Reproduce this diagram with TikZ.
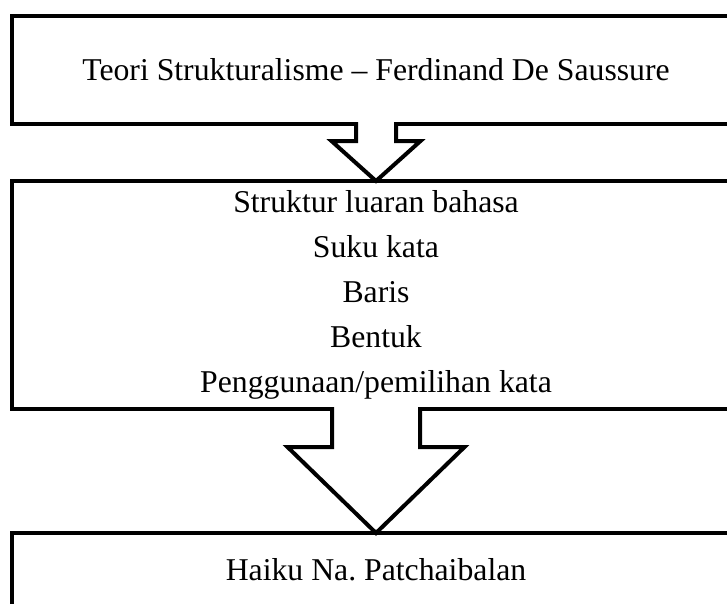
\documentclass[tikz,border=0pt]{standalone}
\usepackage{fontspec}
\setmainfont{Liberation Serif}
\usetikzlibrary{calc}

% hollow down arrow from the bottom of box #1 to the top of box #2
% #3 half stem, #4 stem length, #5 half head
\newcommand{\bigarrow}[5]{%
  \filldraw[hollow] ($(#1.south)+(-#3,-2)$) -- ($(#1.south)+(-#3,#4)$)
    -- ($(#1.south)+(-#5,#4)$) -- (#2.north)
    -- ($(#1.south)+(#5,#4)$) -- ($(#1.south)+(#3,#4)$)
    -- ($(#1.south)+(#3,-2)$);}

\begin{document}
\begin{tikzpicture}[x=0.75pt, y=-0.75pt,
  box/.style={draw, line width=3pt, outer sep=0pt, inner sep=0pt,
    minimum width=546pt, align=center,
    font=\fontsize{23.8pt}{33.6pt}\selectfont},
  hollow/.style={draw=black, fill=white, line width=3pt}]
  \useasboundingbox (0,0) rectangle (727,603);
  \clip (0,0) rectangle (727,603);

  % Theory box
  \node[box, minimum height=81pt] (teori) at (376,70)
    {Teori Strukturalisme -- Ferdinand De Saussure};

  % Surface structure box
  \node[box, minimum height=171pt] (struktur) at (376,295)
    {Struktur luaran bahasa\\ Suku kata\\ Baris\\ Bentuk\\ Penggunaan/pemilihan kata};

  % Haiku box (runs off the bottom)
  \node[box, minimum height=81pt, text depth=26.7pt] (haiku) at (376,587)
    {Haiku Na.\ Patchaibalan};

  % Arrows between the boxes
  \bigarrow{teori}{struktur}{20}{17}{44.5}
  \bigarrow{struktur}{haiku}{44}{38}{88.5}
\end{tikzpicture}
\end{document}
